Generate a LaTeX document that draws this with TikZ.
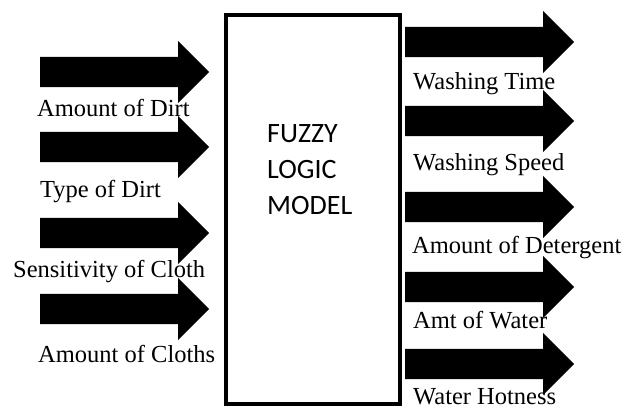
\documentclass[tikz,border=0pt]{standalone}
\usepackage{fontspec}
\setmainfont{Liberation Serif}
\newfontfamily\modelfont{Carlito}
\usetikzlibrary{shapes.arrows}
\tikzset{%
  bigarrow/.style = {shape=single arrow, fill=black, draw=none, anchor=tail,%
                     inner xsep=0pt, inner ysep=15pt, minimum height=169pt,%
                     single arrow head extend=16pt, single arrow tip angle=90},%
  varlabel/.style = {anchor=base west, inner sep=0pt,%
                     font=\fontsize{24.5}{26}\selectfont},%
  model/.style    = {draw, line width=4pt, inner sep=0pt,%
                     minimum width=174.5pt, minimum height=389pt}%
}
\begin{document}
\begin{tikzpicture}[x=1pt,y=-1pt]
	\useasboundingbox (0,0) rectangle (631,409);
	\node [model] (fuzzy) at (312.75,209.5) {};
	\node [anchor=west, align=left, inner sep=0pt,
		font=\modelfont\fontsize{28}{36}\selectfont] (title) at (267,170)
		{FUZZY\\LOGIC\\MODEL};
		\node [bigarrow] (dirtamt) at (40,72) {};
		\node [bigarrow] (dirttype) at (40,147) {};
		\node [bigarrow] (cloth) at (40,233) {};
		\node [bigarrow] (clothamt) at (40,309) {};
		\node [varlabel] (ldirtamt) at (37,117) {Amount of Dirt};
		\node [varlabel] (ldirttype) at (40,197) {Type of Dirt};
		\node [varlabel] (lcloth) at (13,277) {Sensitivity of Cloth};
		\node [varlabel] (lclothamt) at (38,362) {Amount of Cloths};
		\node [bigarrow] (time) at (405,42) {};
		\node [bigarrow] (speed) at (405,121) {};
		\node [bigarrow] (detergent) at (405,207) {};
		\node [bigarrow] (water) at (405,287) {};
		\node [bigarrow] (hotness) at (405,364) {};
		\node [varlabel] (ltime) at (413,90) {Washing Time};
		\node [varlabel] (lspeed) at (413,170) {Washing Speed};
		\node [varlabel] (ldetergent) at (412,253) {Amount of Detergent};
		\node [varlabel] (lwater) at (413,328) {Amt of Water};
		\node [varlabel] (lhotness) at (413,404) {Water Hotness};
\end{tikzpicture}
\end{document}
